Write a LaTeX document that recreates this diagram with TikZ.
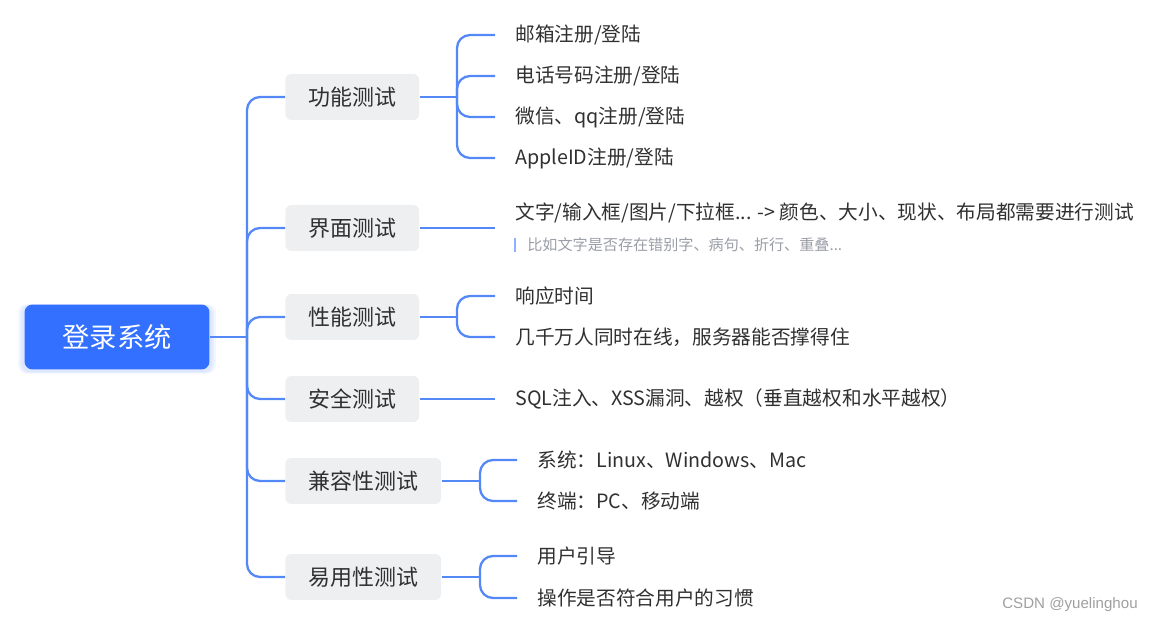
\documentclass[tikz,border=0pt]{standalone}
\usepackage{fontspec}
\setmainfont{Noto Sans CJK SC}
\newfontfamily\wmfont{Liberation Sans}
\usetikzlibrary{positioning, calc, shadows}
\definecolor{rootblue}{HTML}{3370FF}
\definecolor{linkblue}{HTML}{5588F7}
\definecolor{boxgray}{HTML}{EEEFF1}
\definecolor{txtdark}{HTML}{303030}
\definecolor{notegray}{HTML}{9A9EA6}
\definecolor{notebar}{HTML}{8FB0FF}

\begin{document}
\begin{tikzpicture}[x=0.02cm, y=-0.02cm,
  glow/.style={general shadow={fill=rootblue, opacity=0.06, shadow scale=#1, shadow yshift=-1pt}},
  rootbox/.style={fill=rootblue, rounded corners=0.16cm, minimum width=3.7cm, minimum height=1.3cm, text=white, font=\fontsize{15.5}{18}\selectfont, glow=1.07, glow=1.05, glow=1.03},
  topic/.style={fill=boxgray, rounded corners=0.12cm, anchor=west, inner xsep=0.46cm, minimum height=0.92cm, text=txtdark, font=\fontsize{12.5}{15}\selectfont},
  leaf/.style={anchor=west, inner sep=0pt, text=txtdark, font=\fontsize{11.2}{13}\selectfont},
  note/.style={anchor=west, inner sep=0pt, text=notegray, font=\fontsize{8.6}{10}\selectfont},
  link/.style={draw=linkblue, line width=1.3pt, rounded corners=0.26cm},
  twig/.style={link, shorten >=0.4cm}]
\useasboundingbox (0,0) rectangle (1153,624);

% Root and trunk
\node[rootbox] (root) at (117,337) {登录系统};
\coordinate (trunk) at (247,337);
\draw[link] (root) -- (trunk);

% Topics
\node[topic] (t1) at (285,97) {功能测试};
\node[topic] (t2) at (285,228) {界面测试};
\node[topic] (t3) at (285,317) {性能测试};
\node[topic] (t4) at (285,399) {安全测试};
\node[topic] (t5) at (285,481) {兼容性测试};
\node[topic] (t6) at (285,577) {易用性测试};
\draw[link] (trunk) |- (t1);
\draw[link] (trunk) |- (t2);
\draw[link] (trunk) |- (t3);
\draw[link] (trunk) |- (t4);
\draw[link] (trunk) |- (t5);
\draw[link] (trunk) |- (t6);

% Functional
\node[leaf] (l11) at (515,35) {邮箱注册/登陆};
\node[leaf] (l12) at (515,76) {电话号码注册/登陆};
\node[leaf] (l13) at (515,117) {微信、qq注册/登陆};
\node[leaf] (l14) at (515,158) {AppleID注册/登陆};
\coordinate (j1) at (457,97);
\draw[link] (t1) -- (j1);
\draw[twig] (j1) |- (l11);
\draw[twig] (j1) |- (l12);
\draw[twig] (j1) |- (l13);
\draw[twig] (j1) |- (l14);

% Interface
\node[leaf] (l21) at (515,213) {文字/输入框/图片/下拉框... -> 颜色、大小、现状、布局都需要进行测试};
\node[note] (n21) at (527,245) {比如文字是否存在错别字、病句、折行、重叠...};
\draw[twig] (t2.east) -- (t2.east -| l21.west);
\draw[notebar, line width=1pt] ([xshift=-0.24cm]n21.north west) -- ([xshift=-0.24cm]n21.south west);

% Performance
\node[leaf] (l31) at (515,296) {响应时间};
\node[leaf] (l32) at (515,337) {几千万人同时在线，服务器能否撑得住};
\coordinate (j3) at (457,317);
\draw[link] (t3) -- (j3);
\draw[twig] (j3) |- (l31);
\draw[twig] (j3) |- (l32);

% Security
\node[leaf] (l41) at (515,399) {SQL注入、XSS漏洞、越权（垂直越权和水平越权）};
\draw[twig] (t4) -- (l41);

% Compatibility
\node[leaf] (l51) at (537,460) {系统：Linux、Windows、Mac};
\node[leaf] (l52) at (537,501) {终端：PC、移动端};
\coordinate (j5) at (480,481);
\draw[link] (t5) -- (j5);
\draw[twig] (j5) |- (l51);
\draw[twig] (j5) |- (l52);

% Usability
\node[leaf] (l61) at (537,556) {用户引导};
\node[leaf] (l62) at (537,598) {操作是否符合用户的习惯};
\coordinate (j6) at (480,577);
\draw[link] (t6) -- (j6);
\draw[twig] (j6) |- (l61);
\draw[twig] (j6) |- (l62);

% Watermark
\node[text=gray!75, font=\wmfont\fontsize{8.6}{10}\selectfont] (wm) at (1070,605) {CSDN @yuelinghou};
\end{tikzpicture}
\end{document}
